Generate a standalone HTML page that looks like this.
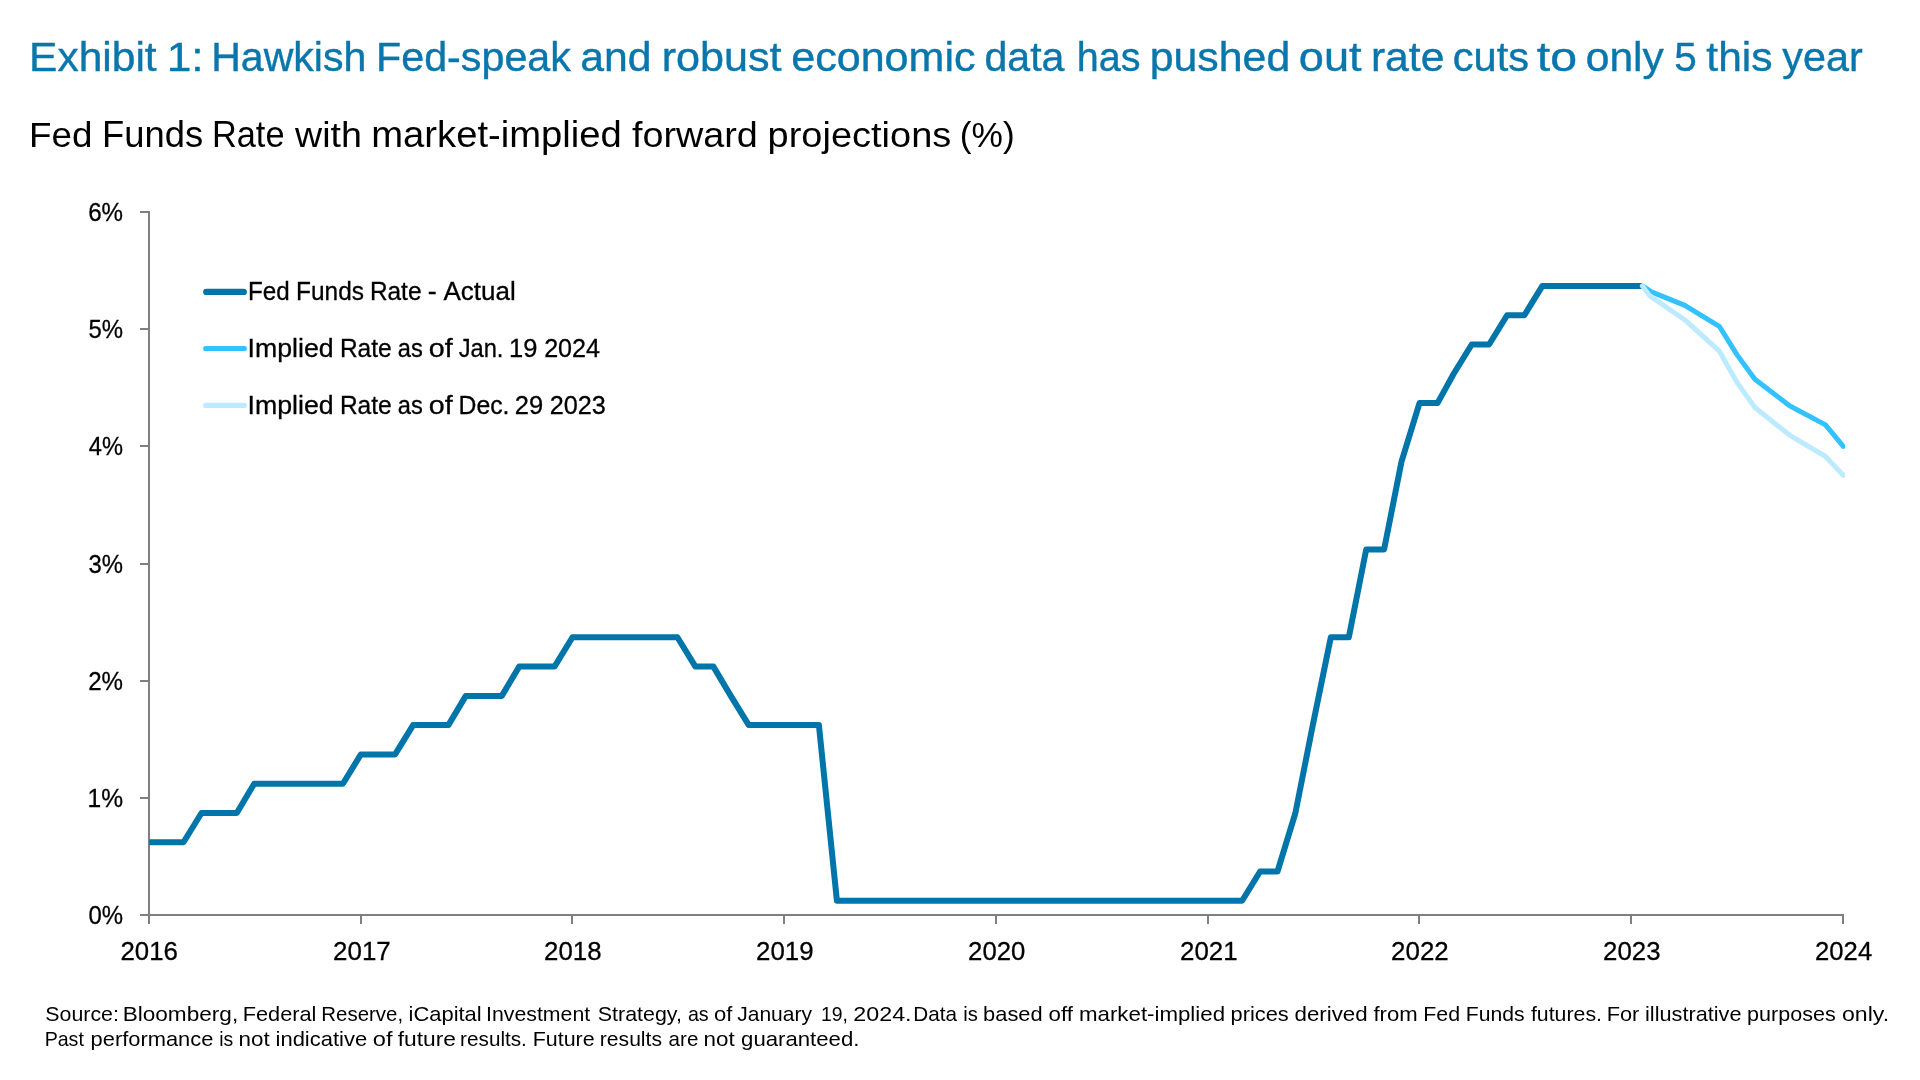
<!DOCTYPE html>
<html lang="en">
<head>
<meta charset="utf-8">
<title>Exhibit 1</title>
<style>
html,body{margin:0;padding:0;background:#fff;}
body{width:1920px;height:1080px;overflow:hidden;font-family:"Liberation Sans",sans-serif;}
svg{display:block;position:absolute;left:0;top:0;will-change:transform;}
svg text{font-family:"Liberation Sans",sans-serif;white-space:pre;}
</style>
</head>
<body>
<svg width="1920" height="1080" viewBox="0 0 1920 1080">
<defs><filter id="aa" x="0" y="0" width="1920" height="1080" filterUnits="userSpaceOnUse"><feOffset dx="0" dy="0"/></filter><clipPath id="plot"><rect x="148" y="200" width="1697" height="716"/></clipPath></defs>
<rect x="0" y="0" width="1920" height="1080" fill="#fff"/>

<g id="axes" fill="#7F7F7F">
<rect x="148" y="211" width="2" height="713"/>
<rect x="140" y="914" width="1704" height="2"/>
<rect x="140" y="797" width="9" height="2"/>
<rect x="140" y="680" width="9" height="2"/>
<rect x="140" y="563" width="9" height="2"/>
<rect x="140" y="445" width="9" height="2"/>
<rect x="140" y="328" width="9" height="2"/>
<rect x="140" y="211" width="9" height="2"/>
<rect x="360" y="915" width="2" height="9"/>
<rect x="571" y="915" width="2" height="9"/>
<rect x="783" y="915" width="2" height="9"/>
<rect x="995" y="915" width="2" height="9"/>
<rect x="1207" y="915" width="2" height="9"/>
<rect x="1418" y="915" width="2" height="9"/>
<rect x="1630" y="915" width="2" height="9"/>
<rect x="1842" y="915" width="2" height="9"/>
</g>
<g id="series" fill="none" stroke-linejoin="round" clip-path="url(#plot)">
<polyline points="149.3,842.2 183.5,842.2 201.5,813.0 236.8,813.0 254.2,783.7 342.9,783.7 360.9,754.4 395.1,754.4 413.1,725.1 448.4,725.1 465.8,695.9 501.8,695.9 519.2,666.6 554.5,666.6 572.5,637.3 677.4,637.3 695.4,666.6 713.4,666.6 730.8,695.9 748.8,725.1 818.9,725.1 836.9,900.8 1242.1,900.8 1260.1,871.5 1277.5,871.5 1295.4,813.0 1312.8,725.1 1330.8,637.3 1348.8,637.3 1366.2,549.5 1384.1,549.5 1401.5,461.6 1419.5,403.1 1437.5,403.1 1453.7,373.8 1471.7,344.5 1489.1,344.5 1507.1,315.2 1524.4,315.2 1542.4,285.9 1631.1,285.9 1642.4,285.9" stroke="#0075A9" stroke-width="6" stroke-linecap="butt"/>
<polyline points="1642.4,285.9 1651.4,291.9 1684.8,305.4 1719.3,326.3 1736.9,354.6 1754.9,379.3 1789.6,405.8 1825.5,424.9 1843.3,446.3" stroke="#33C1FF" stroke-width="5" stroke-linecap="round"/>
<polyline points="1642.4,285.9 1649.3,295.4 1684.6,319.7 1719.1,350.8 1736.8,382.1 1754.9,407.5 1789.9,435.3 1825.5,456.5 1843.3,475.4" stroke="#BCEBFF" stroke-width="5" stroke-linecap="round"/>
</g>
<g id="legend" stroke-linecap="round" fill="none">
<line x1="206.2" y1="291.9" x2="243.8" y2="291.9" stroke="#0075A9" stroke-width="6.2"/>
<line x1="205.7" y1="348.5" x2="244.3" y2="348.5" stroke="#33C1FF" stroke-width="5.2"/>
<line x1="205.7" y1="405.4" x2="244.3" y2="405.4" stroke="#BCEBFF" stroke-width="5.2"/>
</g>
<g id="alltext" filter="url(#aa)">
<g id="titles">
<g font-size="40.6" fill="#0976AC" stroke="#0976AC" stroke-width="0.4">
<text transform="matrix(1.0471 0 0 1 29.11 70.6)">Exhibit</text>
<text transform="matrix(1.0902 0 0 1 166.63 70.6)">1:</text>
<text transform="matrix(1.0122 0 0 1 211.13 70.6)">Hawkish</text>
<text transform="matrix(1.0162 0 0 1 376.02 70.6)">Fed-speak</text>
<text transform="matrix(1.0529 0 0 1 580.18 70.6)">and</text>
<text transform="matrix(1.0629 0 0 1 661.63 70.6)">robust</text>
<text transform="matrix(1.0616 0 0 1 791.17 70.6)">economic</text>
<text transform="matrix(1.0121 0 0 1 984.52 70.6)">data</text>
<text transform="matrix(0.9726 0 0 1 1076.76 70.6)">has</text>
<text transform="matrix(1.0550 0 0 1 1149.74 70.6)">pushed</text>
<text transform="matrix(1.1114 0 0 1 1298.86 70.6)">out</text>
<text transform="matrix(1.0503 0 0 1 1370.92 70.6)">rate</text>
<text transform="matrix(1.0243 0 0 1 1452.73 70.6)">cuts</text>
<text transform="matrix(1.1890 0 0 1 1536.77 70.6)">to</text>
<text transform="matrix(1.0489 0 0 1 1585.71 70.6)">only</text>
<text transform="matrix(0.9974 0 0 1 1674.18 70.6)">5</text>
<text transform="matrix(1.0475 0 0 1 1706.36 70.6)">this</text>
<text transform="matrix(1.0178 0 0 1 1782.3 70.6)">year</text>
</g>
<g font-size="36.0" fill="#000">
<text transform="matrix(1.0219 0 0 1 28.98 146.9)">Fed</text>
<text transform="matrix(1.0104 0 0 1 102.02 146.9)">Funds</text>
<text transform="matrix(0.9540 0 0 1 211.98 146.9)">Rate</text>
<text transform="matrix(1.0448 0 0 1 295.06 146.9)">with</text>
<text transform="matrix(1.0623 0 0 1 371.21 146.9)">market-implied</text>
<text transform="matrix(1.0494 0 0 1 631.97 146.9)">forward</text>
<text transform="matrix(1.0559 0 0 1 767.55 146.9)">projections</text>
<text transform="matrix(0.9802 0 0 1 959.81 146.9)">(%)</text>
</g>
</g>
<g id="ylabels">
<g font-size="26.0" fill="#000" stroke="#000" stroke-width="0.3">
<text transform="matrix(0.9204 0 0 1 88.47 924.4)">0%</text>
</g>
<g font-size="26.0" fill="#000" stroke="#000" stroke-width="0.3">
<text transform="matrix(0.9460 0 0 1 87.53 807.4)">1%</text>
</g>
<g font-size="26.0" fill="#000" stroke="#000" stroke-width="0.3">
<text transform="matrix(0.9280 0 0 1 88.19 690.4)">2%</text>
</g>
<g font-size="26.0" fill="#000" stroke="#000" stroke-width="0.3">
<text transform="matrix(0.9198 0 0 1 88.49 573.4)">3%</text>
</g>
<g font-size="26.0" fill="#000" stroke="#000" stroke-width="0.3">
<text transform="matrix(0.9097 0 0 1 88.86 455.4)">4%</text>
</g>
<g font-size="26.0" fill="#000" stroke="#000" stroke-width="0.3">
<text transform="matrix(0.9211 0 0 1 88.44 338.4)">5%</text>
</g>
<g font-size="26.0" fill="#000" stroke="#000" stroke-width="0.3">
<text transform="matrix(0.9284 0 0 1 88.17 221.4)">6%</text>
</g>
</g>
<g id="xlabels">
<g font-size="26.0" fill="#000" stroke="#000" stroke-width="0.3">
<text transform="matrix(0.9930 0 0 1 120.5 960)">2016</text>
</g>
<g font-size="26.0" fill="#000" stroke="#000" stroke-width="0.3">
<text transform="matrix(0.9959 0 0 1 333.1 960)">2017</text>
</g>
<g font-size="26.0" fill="#000" stroke="#000" stroke-width="0.3">
<text transform="matrix(0.9927 0 0 1 544.1 960)">2018</text>
</g>
<g font-size="26.0" fill="#000" stroke="#000" stroke-width="0.3">
<text transform="matrix(0.9946 0 0 1 756.1 960)">2019</text>
</g>
<g font-size="26.0" fill="#000" stroke="#000" stroke-width="0.3">
<text transform="matrix(0.9907 0 0 1 968.1 960)">2020</text>
</g>
<g font-size="26.0" fill="#000" stroke="#000" stroke-width="0.3">
<text transform="matrix(0.9952 0 0 1 1180.1 960)">2021</text>
</g>
<g font-size="26.0" fill="#000" stroke="#000" stroke-width="0.3">
<text transform="matrix(0.9959 0 0 1 1391.1 960)">2022</text>
</g>
<g font-size="26.0" fill="#000" stroke="#000" stroke-width="0.3">
<text transform="matrix(0.9930 0 0 1 1603.1 960)">2023</text>
</g>
<g font-size="26.0" fill="#000" stroke="#000" stroke-width="0.3">
<text transform="matrix(0.9862 0 0 1 1815.11 960)">2024</text>
</g>
</g>
<g id="legendtext">
<g font-size="25.4" fill="#000" stroke="#000" stroke-width="0.3">
<text transform="matrix(0.9514 0 0 1 248.02 299.7)">Fed</text>
<text transform="matrix(0.9616 0 0 1 296.1 299.7)">Funds</text>
<text transform="matrix(0.9615 0 0 1 369.9 299.7)">Rate</text>
<text transform="matrix(1.0643 0 0 1 427.8 299.7)">-</text>
<text transform="matrix(1.0240 0 0 1 443.45 299.7)">Actual</text>
</g>
<g font-size="25.4" fill="#000" stroke="#000" stroke-width="0.3">
<text transform="matrix(1.0514 0 0 1 247.54 356.8)">Implied</text>
<text transform="matrix(0.9655 0 0 1 339.89 356.8)">Rate</text>
<text transform="matrix(0.9324 0 0 1 397.74 356.8)">as</text>
<text transform="matrix(1.1288 0 0 1 428.8 356.8)">of</text>
<text transform="matrix(0.9328 0 0 1 458.63 356.8)">Jan.</text>
<text transform="matrix(1.0054 0 0 1 509.05 356.8)">19</text>
<text transform="matrix(0.9911 0 0 1 544.13 356.8)">2024</text>
</g>
<g font-size="25.4" fill="#000" stroke="#000" stroke-width="0.3">
<text transform="matrix(1.0514 0 0 1 247.54 413.7)">Implied</text>
<text transform="matrix(0.9655 0 0 1 339.89 413.7)">Rate</text>
<text transform="matrix(0.9324 0 0 1 397.74 413.7)">as</text>
<text transform="matrix(1.1288 0 0 1 428.8 413.7)">of</text>
<text transform="matrix(0.9755 0 0 1 458.57 413.7)">Dec.</text>
<text transform="matrix(1.0050 0 0 1 514.72 413.7)">29</text>
<text transform="matrix(0.9933 0 0 1 549.73 413.7)">2023</text>
</g>
</g>
<g id="notes">
<g font-size="20.3" fill="#000">
<text transform="matrix(1.0531 0 0 1 45.28 1020.8)">Source:</text>
<text transform="matrix(1.1139 0 0 1 122.65 1020.8)">Bloomberg,</text>
<text transform="matrix(1.0713 0 0 1 242.72 1020.8)">Federal</text>
<text transform="matrix(1.0066 0 0 1 321.32 1020.8)">Reserve,</text>
<text transform="matrix(1.0810 0 0 1 408.53 1020.8)">iCapital</text>
<text transform="matrix(1.0487 0 0 1 486.04 1020.8)">Investment</text>
<text transform="matrix(1.0554 0 0 1 597.78 1020.8)">Strategy,</text>
<text transform="matrix(0.9701 0 0 1 687.91 1020.8)">as</text>
<text transform="matrix(1.0865 0 0 1 714.07 1020.8)">of</text>
<text transform="matrix(1.0367 0 0 1 737.17 1020.8)">January</text>
<text transform="matrix(0.9557 0 0 1 821.02 1020.8)">19,</text>
<text transform="matrix(1.1476 0 0 1 853.33 1020.8)">2024.</text>
<text transform="matrix(1.0191 0 0 1 913.3 1020.8)">Data</text>
<text transform="matrix(0.9945 0 0 1 963.15 1020.8)">is</text>
<text transform="matrix(1.0770 0 0 1 983.09 1020.8)">based</text>
<text transform="matrix(1.0991 0 0 1 1048.56 1020.8)">off</text>
<text transform="matrix(1.0981 0 0 1 1079.02 1020.8)">market-implied</text>
<text transform="matrix(1.0747 0 0 1 1230.59 1020.8)">prices</text>
<text transform="matrix(1.0983 0 0 1 1294.56 1020.8)">derived</text>
<text transform="matrix(1.0905 0 0 1 1373.44 1020.8)">from</text>
<text transform="matrix(1.0545 0 0 1 1423.24 1020.8)">Fed</text>
<text transform="matrix(1.0413 0 0 1 1465.77 1020.8)">Funds</text>
<text transform="matrix(1.0487 0 0 1 1530.95 1020.8)">futures.</text>
<text transform="matrix(1.0721 0 0 1 1606.71 1020.8)">For</text>
<text transform="matrix(1.0694 0 0 1 1645.05 1020.8)">illustrative</text>
<text transform="matrix(1.0618 0 0 1 1747.11 1020.8)">purposes</text>
<text transform="matrix(1.1379 0 0 1 1842.03 1020.8)">only.</text>
</g>
<g font-size="20.3" fill="#000">
<text transform="matrix(0.9663 0 0 1 44.64 1045.8)">Past</text>
<text transform="matrix(1.0783 0 0 1 90.59 1045.8)">performance</text>
<text transform="matrix(0.9548 0 0 1 219.2 1045.8)">is</text>
<text transform="matrix(1.1039 0 0 1 238.51 1045.8)">not</text>
<text transform="matrix(1.0835 0 0 1 275.53 1045.8)">indicative</text>
<text transform="matrix(1.1641 0 0 1 372.76 1045.8)">of</text>
<text transform="matrix(1.1238 0 0 1 397.68 1045.8)">future</text>
<text transform="matrix(1.0204 0 0 1 460.12 1045.8)">results.</text>
<text transform="matrix(1.0561 0 0 1 532.74 1045.8)">Future</text>
<text transform="matrix(1.0397 0 0 1 599.85 1045.8)">results</text>
<text transform="matrix(1.0154 0 0 1 668.62 1045.8)">are</text>
<text transform="matrix(1.1039 0 0 1 703.51 1045.8)">not</text>
<text transform="matrix(1.0932 0 0 1 741.07 1045.8)">guaranteed.</text>
</g>
</g>
</g>
</svg>
</body>
</html>
